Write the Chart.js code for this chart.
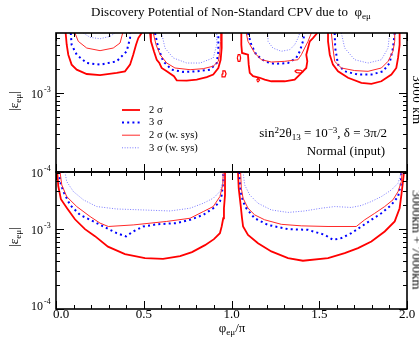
<!DOCTYPE html>
<html><head><meta charset="utf-8">
<script src="https://cdn.jsdelivr.net/npm/chart.js@4"></script>
<style>
html,body{margin:0;padding:0;background:#fff;}
#wrap{position:relative;width:419px;height:347px;overflow:hidden;font-family:'Liberation Serif','Times New Roman',serif;color:#000;}
canvas{position:absolute;left:0;top:0;}
.t{position:absolute;white-space:nowrap;line-height:1;}
.t sub,.t sup{font-size:70%;line-height:0;position:relative;vertical-align:baseline;}
.t sup{top:-0.45em;}
.t sub{top:0.3em;}
</style></head>
<body><div id="wrap">
<canvas id="top" width="419" height="347"></canvas>
<canvas id="bot" width="419" height="347"></canvas>
<div class="t" style="left:231px;top:5px;font-size:13px;transform:translateX(-50%);">Discovery Potential of Non-Standard CPV due to&nbsp; φ<sub>eμ</sub></div>
<div class="t" style="left:232px;top:321px;font-size:13px;transform:translateX(-50%);">φ<sub>eμ</sub>/π</div>
<div class="t" style="left:13px;top:101px;font-size:13px;transform:translate(-50%,-50%) rotate(-90deg);">|ε<sub>eμ</sub>|</div>
<div class="t" style="left:13px;top:237px;font-size:13px;transform:translate(-50%,-50%) rotate(-90deg);">|ε<sub>eμ</sub>|</div>
<div class="t" style="right:32px;top:126px;font-size:13px;">sin<sup>2</sup>2θ<sub>13</sub> = 10<sup>−3</sup>, δ = 3π/2</div>
<div class="t" style="right:34px;top:144px;font-size:13px;">Normal (input)</div>
<div class="t" style="left:417px;top:100px;font-size:13px;letter-spacing:0.5px;transform:translate(-50%,-50%) rotate(90deg);">3000 km</div>
<div class="t" style="left:417px;top:240px;font-size:13px;transform:translate(-50%,-50%) rotate(90deg);">3000km + 7000km</div>
</div>
<script>
// ---- axis ticks ----
const PHI_MAJOR = [0, 0.5, 1.0, 1.5, 2.0];
const PHI_LABELS = ['0.0', '0.5', '1.0', '1.5', '2.0'];
const PHI_MINOR = [0.1,0.2,0.3,0.4,0.6,0.7,0.8,0.9,1.1,1.2,1.3,1.4,1.6,1.7,1.8,1.9];
const EPS_MAJOR = [1e-4, 1e-3];
const EPS_EXP_LABELS = ['-4', '-3'];
const EPS_MINOR = [2e-4,3e-4,4e-4,5e-4,6e-4,7e-4,8e-4,9e-4,2e-3,3e-3,4e-3,5e-3];
const LEGEND_LABELS = ['2 σ', '3 σ', '2 σ (w. sys)', '3 σ (w. sys)'];

// ---- top panel (3000 km): [phi/pi, |eps|] ----
const T2s_1 = [[0.055,5.7e-3],[0.061,4.05e-3],[0.070,3.03e-3],[0.089,2.27e-3],[0.118,1.96e-3],[0.175,1.73e-3],[0.251,1.67e-3],[0.346,1.79e-3],[0.393,1.87e-3],[0.422,2.27e-3],[0.440,3.03e-3],[0.456,4.05e-3],[0.469,4.92e-3],[0.488,5.7e-3]];
const T2s_2 = [[0.536,5.7e-3],[0.541,4.47e-3],[0.558,3.35e-3],[0.574,2.62e-3],[0.589,2.38e-3],[0.602,2.06e-3],[0.631,1.87e-3],[0.672,1.62e-3],[0.688,1.44e-3],[0.745,1.43e-3],[0.802,1.47e-3],[0.859,1.58e-3],[0.896,1.70e-3],[0.925,2.06e-3],[0.938,2.62e-3],[0.944,3.68e-3],[0.944,5.17e-3],[0.944,5.7e-3]];
const T2s_3 = [[1.056,5.7e-3],[1.056,4.05e-3],[1.060,3.19e-3],[1.094,3.03e-3],[1.098,2.27e-3],[1.104,1.79e-3],[1.123,1.62e-3],[1.161,1.55e-3],[1.189,1.47e-3],[1.227,1.40e-3],[1.303,1.40e-3],[1.360,1.47e-3],[1.389,1.70e-3],[1.407,1.87e-3],[1.426,2.06e-3],[1.432,2.50e-3],[1.426,3.03e-3],[1.436,3.68e-3],[1.446,4.47e-3],[1.464,4.92e-3],[1.489,5.7e-3]];
const T2s_4 = [[1.550,5.7e-3],[1.550,4.47e-3],[1.560,3.03e-3],[1.578,2.27e-3],[1.607,1.87e-3],[1.664,1.55e-3],[1.740,1.34e-3],[1.797,1.30e-3],[1.854,1.40e-3],[1.911,1.70e-3],[1.939,2.06e-3],[1.949,2.76e-3],[1.958,4.05e-3],[1.958,5.7e-3]];
const T2s_blobs = [
  [[0.946,1.74e-3],[0.951,1.89e-3],[0.963,1.89e-3],[0.969,1.74e-3],[0.963,1.59e-3],[0.951,1.59e-3],[0.946,1.74e-3]],
  [[1.033,2.76e-3],[1.038,3.03e-3],[1.048,3.03e-3],[1.052,2.76e-3],[1.048,2.50e-3],[1.038,2.50e-3],[1.033,2.76e-3]],
  [[1.360,1.87e-3],[1.372,1.95e-3],[1.395,1.93e-3],[1.407,1.85e-3],[1.395,1.78e-3],[1.372,1.80e-3],[1.360,1.87e-3]],
  [[1.143,1.45e-3],[1.151,1.52e-3],[1.160,1.45e-3],[1.151,1.38e-3],[1.143,1.45e-3]]
];
const T3s_1 = [[0.084,5.7e-3],[0.089,4.05e-3],[0.118,3.03e-3],[0.175,2.38e-3],[0.251,2.27e-3],[0.346,2.50e-3],[0.403,3.35e-3],[0.422,4.92e-3],[0.422,5.7e-3]];
const T3s_2 = [[0.564,5.7e-3],[0.583,3.68e-3],[0.611,2.50e-3],[0.659,1.96e-3],[0.725,1.84e-3],[0.802,1.87e-3],[0.877,1.96e-3],[0.916,2.38e-3],[0.925,3.35e-3],[0.925,4.92e-3],[0.925,5.7e-3]];
const T3s_3 = [[1.094,5.7e-3],[1.113,4.05e-3],[1.141,3.03e-3],[1.189,2.50e-3],[1.246,2.32e-3],[1.322,2.38e-3],[1.369,2.76e-3],[1.389,3.35e-3],[1.407,4.47e-3],[1.417,5.7e-3]];
const T3s_4 = [[1.588,5.7e-3],[1.591,3.68e-3],[1.607,2.27e-3],[1.645,1.87e-3],[1.721,1.70e-3],[1.797,1.70e-3],[1.863,1.87e-3],[1.901,2.38e-3],[1.920,3.68e-3],[1.930,5.7e-3]];
const T2sS_1 = [[0.108,5.7e-3],[0.127,4.47e-3],[0.175,3.68e-3],[0.251,3.41e-3],[0.326,3.68e-3],[0.365,4.26e-3],[0.380,5.7e-3]];
const T2sS_2 = [[0.554,5.7e-3],[0.570,4.05e-3],[0.593,3.03e-3],[0.631,2.38e-3],[0.678,2.06e-3],[0.764,1.96e-3],[0.839,2.02e-3],[0.896,2.17e-3],[0.925,2.50e-3],[0.934,3.35e-3],[0.938,4.47e-3],[0.938,5.7e-3]];
const T2sS_3 = [[1.084,5.7e-3],[1.094,4.47e-3],[1.132,3.19e-3],[1.170,2.62e-3],[1.227,2.45e-3],[1.303,2.50e-3],[1.379,2.62e-3],[1.398,3.03e-3],[1.417,3.68e-3],[1.436,4.47e-3],[1.455,5.7e-3]];
const T2sS_4 = [[1.569,5.7e-3],[1.578,3.68e-3],[1.588,2.50e-3],[1.626,2.06e-3],[1.702,1.91e-3],[1.778,1.87e-3],[1.854,2.06e-3],[1.892,2.50e-3],[1.920,3.35e-3],[1.930,4.47e-3],[1.930,5.7e-3]];
const T3sS_1 = [[0.156,5.7e-3],[0.194,5.02e-3],[0.251,4.82e-3],[0.308,5.17e-3],[0.336,5.7e-3]];
const T3sS_2 = [[0.602,5.7e-3],[0.621,3.68e-3],[0.668,2.76e-3],[0.745,2.38e-3],[0.821,2.38e-3],[0.896,2.76e-3],[0.916,4.05e-3],[0.916,5.7e-3]];
const T3sS_3 = [[1.208,5.7e-3],[1.208,4.47e-3],[1.236,3.68e-3],[1.284,3.35e-3],[1.332,3.51e-3],[1.360,4.05e-3],[1.379,4.92e-3],[1.389,5.7e-3]];
const T3sS_4 = [[1.626,5.7e-3],[1.645,3.68e-3],[1.702,2.62e-3],[1.778,2.38e-3],[1.854,2.62e-3],[1.892,3.68e-3],[1.901,5.7e-3]];

// ---- bottom panel (3000 km + 7000 km) ----
const B2s_1 = [[0.007,5.2e-3],[0.013,3.45e-3],[0.028,2.37e-3],[0.063,1.83e-3],[0.108,1.33e-3],[0.165,1.0e-3],[0.222,8.17e-4],[0.296,6.04e-4],[0.393,4.87e-4],[0.507,4.34e-4],[0.610,4.25e-4],[0.707,4.6e-4],[0.775,5.16e-4],[0.849,6.31e-4],[0.900,7.5e-4],[0.934,8.91e-4],[0.944,1.08e-3],[0.953,1.37e-3],[0.957,1.83e-3],[0.963,2.68e-3],[0.963,3.95e-3],[0.963,5.2e-3]];
const B2s_2 = [[1.037,5.2e-3],[1.041,3.25e-3],[1.052,2.01e-3],[1.060,1.37e-3],[1.066,1.08e-3],[1.094,8.49e-4],[1.151,6.68e-4],[1.227,5.26e-4],[1.322,4.34e-4],[1.407,4.02e-4],[1.550,4.34e-4],[1.645,5.01e-4],[1.721,5.79e-4],[1.797,7.02e-4],[1.873,9.36e-4],[1.930,1.25e-3],[1.958,1.83e-3],[1.968,2.68e-3],[1.977,3.95e-3],[1.983,5.2e-3]];
const B3s_1 = [[0.019,5.2e-3],[0.023,3.95e-3],[0.042,2.96e-3],[0.080,2.01e-3],[0.137,1.51e-3],[0.213,1.25e-3],[0.289,1.03e-3],[0.346,8.91e-4],[0.399,8.11e-4],[0.440,9.36e-4],[0.497,1.08e-3],[0.574,1.15e-3],[0.688,1.19e-3],[0.764,1.31e-3],[0.839,1.51e-3],[0.896,1.83e-3],[0.934,2.22e-3],[0.944,2.68e-3],[0.953,3.95e-3],[0.953,5.2e-3]];
const B3s_2 = [[1.045,5.2e-3],[1.047,4.34e-3],[1.052,2.96e-3],[1.066,2.22e-3],[1.084,1.83e-3],[1.132,1.37e-3],[1.208,1.13e-3],[1.322,1.0e-3],[1.436,9.8e-4],[1.531,8.49e-4],[1.578,7.35e-4],[1.626,7.72e-4],[1.683,8.91e-4],[1.740,1.08e-3],[1.797,1.31e-3],[1.854,1.58e-3],[1.911,2.01e-3],[1.949,2.56e-3],[1.964,3.58e-3],[1.968,5.2e-3]];
const B2sS_1 = [[0.023,5.2e-3],[0.033,3.58e-3],[0.061,2.56e-3],[0.118,1.92e-3],[0.194,1.44e-3],[0.251,1.19e-3],[0.298,1.08e-3],[0.440,1.13e-3],[0.631,1.25e-3],[0.764,1.37e-3],[0.839,1.66e-3],[0.896,1.92e-3],[0.934,2.56e-3],[0.950,3.58e-3],[0.953,5.2e-3]];
const B2sS_2 = [[1.052,5.2e-3],[1.056,3.25e-3],[1.066,2.44e-3],[1.094,1.83e-3],[1.132,1.51e-3],[1.189,1.31e-3],[1.284,1.15e-3],[1.398,1.10e-3],[1.550,1.08e-3],[1.711,1.08e-3],[1.759,1.31e-3],[1.816,1.58e-3],[1.873,1.92e-3],[1.920,2.33e-3],[1.949,2.96e-3],[1.968,3.95e-3],[1.972,5.2e-3]];
const B3sS_1 = [[0.051,5.2e-3],[0.061,3.95e-3],[0.099,2.96e-3],[0.156,2.33e-3],[0.232,1.92e-3],[0.346,1.79e-3],[0.497,1.74e-3],[0.650,1.69e-3],[0.764,1.83e-3],[0.839,2.11e-3],[0.896,2.44e-3],[0.934,2.96e-3],[0.953,3.95e-3],[0.953,5.2e-3]];
const B3sS_2 = [[1.066,5.2e-3],[1.075,3.58e-3],[1.104,2.68e-3],[1.151,2.11e-3],[1.227,1.74e-3],[1.322,1.62e-3],[1.417,1.69e-3],[1.512,1.83e-3],[1.588,1.92e-3],[1.683,1.87e-3],[1.740,1.98e-3],[1.797,2.22e-3],[1.854,2.56e-3],[1.911,3.10e-3],[1.949,3.76e-3],[1.968,5.2e-3]];

// ---- styles ----
const STY = {
  s2:    {borderColor:'#ff0000', borderWidth:1.8, borderDash:[]},
  s3:    {borderColor:'#0000ff', borderWidth:2, borderDash:[2,3.2]},
  s2sys: {borderColor:'#ff2a2a', borderWidth:1, borderDash:[]},
  s3sys: {borderColor:'#7a7aff', borderWidth:1, borderDash:[1,1.6]}
};
const LEGEND_KEYS = ['s2','s3','s2sys','s3sys'];
const ds = (arr, key, w) => Object.assign({
  data: arr.map(([x, y]) => ({x, y})), showLine: true, pointRadius: 0, fill: false, tension: 0
}, STY[key], w ? {borderWidth: w} : {});

const frame = (opts) => ({
  id: 'frameTicks',
  afterDatasetsDraw(chart) {
    const {ctx, chartArea: a, scales: {x, y}} = chart;
    const inR = v => v >= y.min * 0.999 && v <= y.max * 1.001;
    ctx.save();
    ctx.strokeStyle = '#000';
    ctx.lineWidth = 1;
    ctx.setLineDash([]);
    ctx.beginPath();
    const xt = (vals, len) => vals.forEach(v => {
      const px = Math.round(x.getPixelForValue(v)) + 0.5;
      ctx.moveTo(px, a.bottom); ctx.lineTo(px, a.bottom - len);
      ctx.moveTo(px, a.top); ctx.lineTo(px, a.top + len);
    });
    xt(PHI_MAJOR, 8); xt(PHI_MINOR, 4);
    const yt = (vals, len) => vals.forEach(v => {
      if (!inR(v)) return;
      const py = Math.round(y.getPixelForValue(v)) + 0.5;
      ctx.moveTo(a.left, py); ctx.lineTo(a.left + len, py);
      ctx.moveTo(a.right, py); ctx.lineTo(a.right - len, py);
    });
    yt(EPS_MAJOR, 8); yt(EPS_MINOR, 4);
    ctx.stroke();
    ctx.lineWidth = 1.6;
    ctx.strokeRect(a.left, a.top, a.right - a.left, a.bottom - a.top);
    ctx.fillStyle = '#000';
    ctx.textBaseline = 'alphabetic';
    EPS_MAJOR.forEach((v, i) => {
      if (!inR(v)) return;
      const py = y.getPixelForValue(v);
      const sh = (opts.lowLabel && Math.abs(py - a.bottom) < 1) ? 1 : 5;
      ctx.font = '12px "Liberation Serif"';
      ctx.textAlign = 'right';
      ctx.fillText('10', a.left - 13, py + sh);
      ctx.font = '8px "Liberation Serif"';
      ctx.textAlign = 'left';
      ctx.fillText(EPS_EXP_LABELS[i], a.left - 12, py + sh - 6);
    });
    if (opts.xLabels) {
      ctx.font = '13px "Liberation Serif"';
      ctx.textAlign = 'center';
      PHI_MAJOR.forEach((v, i) => {
        const px = x.getPixelForValue(v) + (i === 0 ? 5 : 0);
        ctx.fillText(PHI_LABELS[i], px, a.bottom + 9);
      });
    }
    ctx.restore();
  }
});

const legend = {
  id: 'lg',
  afterDatasetsDraw(chart) {
    const ctx = chart.ctx;
    ctx.save();
    LEGEND_LABELS.forEach((lab, i) => {
      const st = STY[LEGEND_KEYS[i]];
      const yy = 110 + i * 12.6;
      ctx.strokeStyle = st.borderColor; ctx.lineWidth = st.borderWidth;
      ctx.setLineDash(st.borderDash);
      ctx.beginPath(); ctx.moveTo(122, yy); ctx.lineTo(140, yy); ctx.stroke();
      ctx.setLineDash([]);
      ctx.fillStyle = '#000'; ctx.font = '10.5px "Liberation Serif"';
      ctx.textBaseline = 'middle'; ctx.textAlign = 'left';
      ctx.fillText(lab, 149, yy);
    });
    ctx.restore();
  }
};

function mk(id, datasets, ymax, padTop, padBottom, plugins) {
  return new Chart(document.getElementById(id), {
    type: 'scatter',
    data: {datasets},
    options: {
      responsive: false, animation: false, events: [],
      layout: {padding: {left: 56, right: 12, top: padTop, bottom: padBottom}},
      plugins: {legend: {display: false}, title: {display: false}, tooltip: {enabled: false}},
      scales: {
        x: {type: 'linear', min: 0, max: 2, display: false},
        y: {type: 'logarithmic', min: 1e-4, max: ymax, display: false}
      }
    },
    plugins
  });
}

const topSets = [
  ...[T3sS_1, T3sS_2, T3sS_3, T3sS_4].map(a => ds(a, 's3sys')),
  ...[T2sS_1, T2sS_2, T2sS_3, T2sS_4].map(a => ds(a, 's2sys')),
  ...[T3s_1, T3s_2, T3s_3, T3s_4].map(a => ds(a, 's3')),
  ...[T2s_1, T2s_2, T2s_3, T2s_4].map(a => ds(a, 's2')),
  ...T2s_blobs.map(a => ds(a, 's2', 1.2))
];
const botSets = [
  ...[B3sS_1, B3sS_2].map(a => ds(a, 's3sys')),
  ...[B2sS_1, B2sS_2].map(a => ds(a, 's2sys')),
  ...[B3s_1, B3s_2].map(a => ds(a, 's3')),
  ...[B2s_1, B2s_2].map(a => ds(a, 's2'))
];
mk('top', topSets, 5.7e-3, 33, 175, [frame({xLabels: false}), legend]);
mk('bot', botSets, 5.2e-3, 172, 38, [frame({xLabels: true, lowLabel: true})]);
</script>
</body></html>
